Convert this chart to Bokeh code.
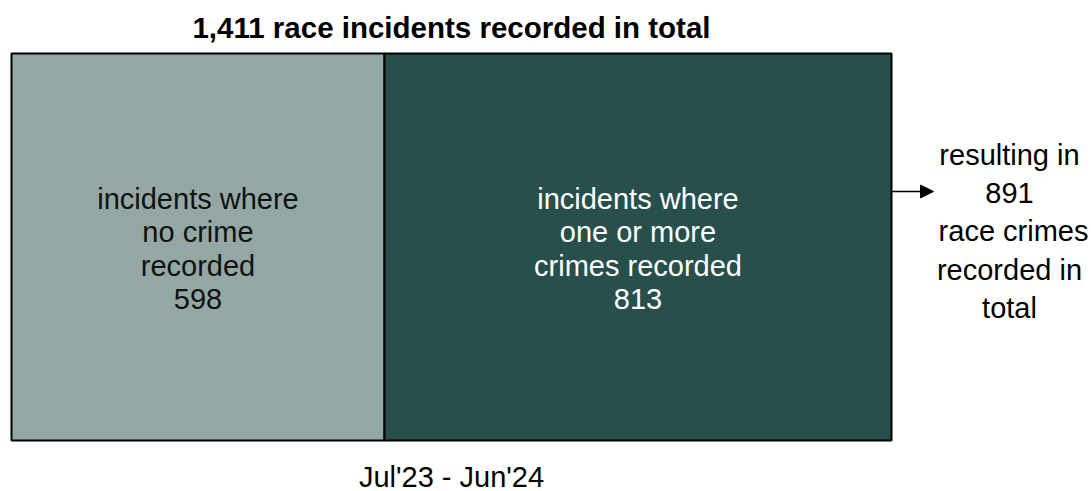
from bokeh.plotting import figure
from bokeh.models import Range1d, Arrow, NormalHead, ColumnDataSource
from bokeh.core.properties import value
from bokeh.embed import file_html
from bokeh.resources import INLINE

# ---- data ----
categories = ["incidents where\nno crime\nrecorded", "incidents where\none or more\ncrimes recorded"]
counts = [598, 813]
crimes_total = 891
period = "Jul'23 - Jun'24"
colors = ["#93a8a4", "#27504c"]
label_colors = ["#111111", "#ffffff"]

total = sum(counts)

W, H = 1091, 491
# pixel layout of the bar
bar_px_left, bar_px_right = 11, 891
bar_px_top, bar_px_bottom = 53, 440

sx = total / (bar_px_right - bar_px_left)        # data units per pixel (x)
sy = 1.0 / (bar_px_bottom - bar_px_top)          # data units per pixel (y)

p = figure(width=W, height=H, output_backend="svg", toolbar_location=None,
           x_range=Range1d(-bar_px_left * sx, (W - bar_px_left) * sx),
           y_range=Range1d(-(H - bar_px_bottom) * sy, 1 + bar_px_top * sy),
           min_border=0)
p.axis.visible = False
p.grid.visible = False
p.outline_line_color = None
p.background_fill_color = "white"

lefts = [sum(counts[:i]) for i in range(len(counts))]
rights = [l + c for l, c in zip(lefts, counts)]
src = ColumnDataSource(dict(left=lefts, right=rights, color=colors))
p.quad(left="left", right="right", bottom=0, top=1, fill_color="color",
       line_color="black", line_width=2, source=src)

FONT = value("Liberation Sans")
FS = "29px"

labels = [f"{c}\n{n}" for c, n in zip(categories, counts)]
mids = [(l + r) / 2 for l, r in zip(lefts, rights)]
p.text(x=mids, y=[0.5 - 2 * sy] * 2, text=labels, text_color=label_colors,
       text_align="center", text_baseline="middle", text_font=FONT,
       text_font_size=FS, text_line_height=1.04)

# title
p.text(x=[total / 2], y=[1 + 26 * sy], text=[f"{total:,} race incidents recorded in total"],
       text_align="center", text_baseline="middle", text_font=FONT,
       text_font_size="29.5px", text_font_style="bold", text_color="black")

# period label
p.text(x=[total / 2], y=[-36 * sy], text=[period], text_align="center",
       text_baseline="middle", text_font=FONT, text_font_size=FS, text_color="black")

# arrow and resulting crimes text
arrow_y = 1 - (191 - bar_px_top) * sy
p.add_layout(Arrow(end=NormalHead(size=13, fill_color="black", line_color="black"),
                   x_start=total, y_start=arrow_y, x_end=total + 42 * sx, y_end=arrow_y,
                   line_color="black", line_width=1.5))
p.text(x=[total + 118 * sx], y=[1 - (231 - bar_px_top) * sy],
       text=[f"resulting in\n{crimes_total}\n\u00a0race crimes\nrecorded in\ntotal"],
       text_align="center", text_baseline="middle", text_font=FONT,
       text_font_size=FS, text_line_height=1.19, text_color="black")

open("out.html", "w").write(file_html(p, INLINE))
